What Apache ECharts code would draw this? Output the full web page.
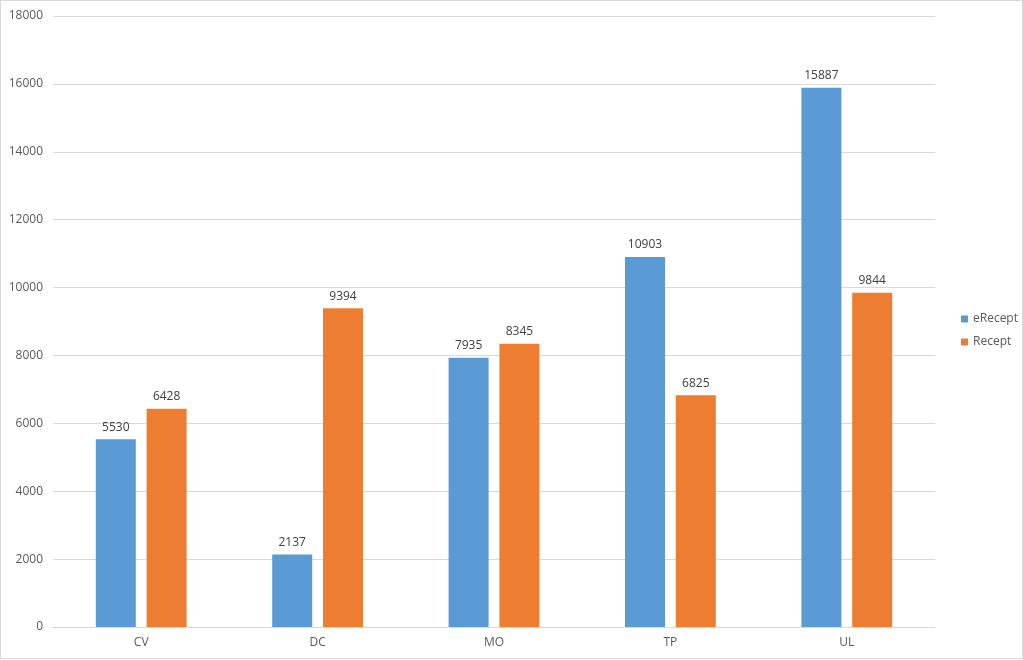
<!DOCTYPE html>
<html><head><meta charset="utf-8">
<script src="https://cdn.jsdelivr.net/npm/echarts@6/dist/echarts.min.js"></script>
<style>
html,body{margin:0;padding:0;background:#fff;}
#c{position:absolute;left:0;top:0;width:1021px;height:657px;border:1px solid #d9d9d9;}
</style></head>
<body><div id="c"></div>
<script>
const categories = ['CV','DC','MO','TP','UL'];
const eRecept = [5530, 2137, 7935, 10903, 15887];
const recept = [6428, 9394, 8345, 6825, 9844];
const chart = echarts.init(document.getElementById('c'));
const font = 'Open Sans, Noto Sans, sans-serif';
chart.setOption({
  animation:false,
  textStyle:{fontFamily:font},
  grid:{left:52,right:87,top:15,bottom:31,containLabel:false},
  legend:{orient:'vertical',left:955,top:307,itemWidth:7,itemHeight:7,itemGap:11,icon:'rect',
    textStyle:{color:'#595959',fontSize:12,fontFamily:font},data:['eRecept','Recept']},
  xAxis:{type:'category',data:categories,axisTick:{show:false},
    axisLine:{lineStyle:{color:'#d9d9d9'}},
    axisLabel:{color:'#595959',fontSize:12,margin:10,fontFamily:font}},
  yAxis:{type:'value',min:0,max:18000,interval:2000,
    axisLine:{show:false},axisTick:{show:false},
    splitLine:{lineStyle:{color:'#d9d9d9'}},
    axisLabel:{color:'#595959',fontSize:12,margin:10,fontFamily:font,formatter:v=>String(v)}},
  series:[
    {name:'eRecept',type:'bar',data:eRecept,barWidth:40,barGap:'27%',
     itemStyle:{color:'#5B9BD5'},
     label:{show:true,position:'top',color:'#404040',fontSize:12,distance:6,fontFamily:font}},
    {name:'Recept',type:'bar',data:recept,barWidth:40,
     itemStyle:{color:'#ED7D31'},
     label:{show:true,position:'top',color:'#404040',fontSize:12,distance:6,fontFamily:font}}
  ]
});
</script></body></html>
